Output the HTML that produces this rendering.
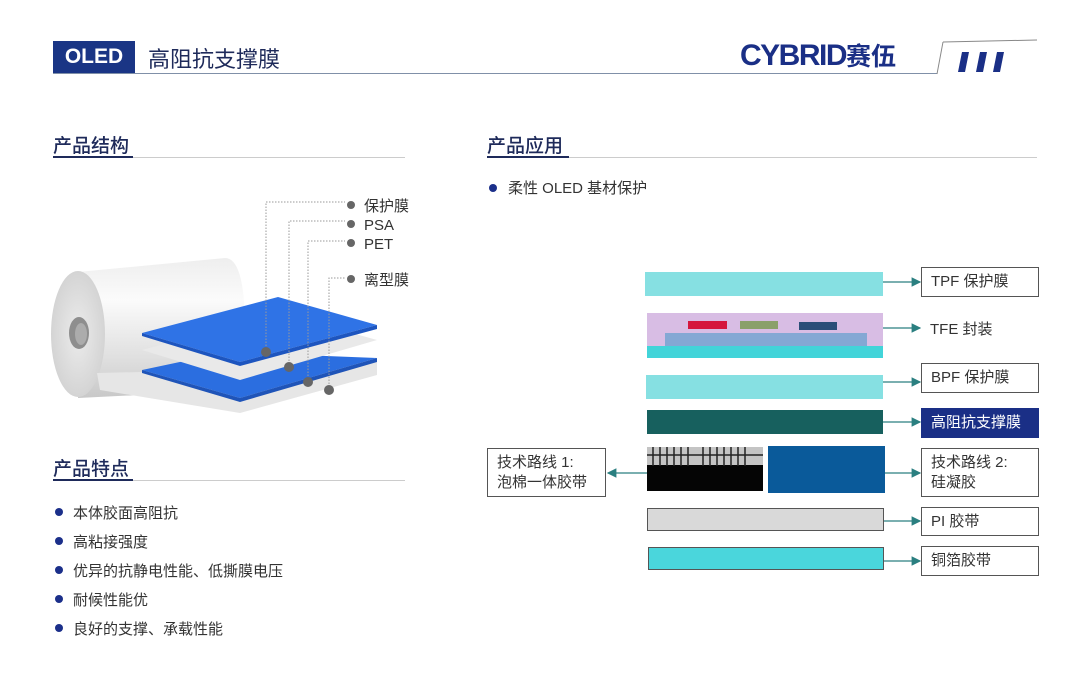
<!DOCTYPE html>
<html><head><meta charset="utf-8">
<style>
body{margin:0;width:1080px;height:690px;background:#fff;position:relative;overflow:hidden;font-family:"Liberation Sans","Noto Sans CJK SC",sans-serif;color:#333}
.a{position:absolute;white-space:nowrap}
.h{font-size:19px;color:#1e2a5a;font-weight:500}
.b{font-size:15px;color:#333}
.dot{position:absolute;width:8px;height:8px;border-radius:50%;background:#1b2f8a}
.box{position:absolute;border:1.5px solid #555;background:#fff;font-size:15px;color:#333;box-sizing:border-box;padding-left:9px;display:flex;align-items:center;line-height:20px}
</style></head><body>
<!-- header -->
<div class="a" style="left:53px;top:41px;width:82px;height:32px;background:#1a3585;color:#fff;font-size:21px;line-height:32px;text-align:center;font-weight:bold">OLED</div>
<div class="a" style="left:148px;top:42px;font-size:22px;color:#1e2a5a">高阻抗支撑膜</div>
<div class="a" style="left:53px;top:73px;width:884px;height:1px;background:#8090a8"></div>
<div class="a" style="left:740px;top:37px;font-size:30px;font-weight:bold;color:#1a2f86;letter-spacing:-1.5px">CYBRID<span style="font-size:25px;letter-spacing:0">赛伍</span></div>
<svg class="a" style="left:930px;top:38px" width="110" height="40"><line x1="7" y1="36" x2="13" y2="4" stroke="#888" stroke-width="1"/><line x1="13" y1="4" x2="107" y2="2" stroke="#888" stroke-width="1"/>
<polygon points="28,34 35,34 39,14 32,14" fill="#1a2f86"/><polygon points="46,34 53,34 57,14 50,14" fill="#1a2f86"/><polygon points="63,34 70,34 74,14 67,14" fill="#1a2f86"/></svg>
<!-- headings -->
<div class="a h" style="left:53px;top:131px">产品结构</div>
<div class="a" style="left:53px;top:157px;width:352px;height:1px;background:#ccc"></div>
<div class="a" style="left:53px;top:156px;width:80px;height:2px;background:#1e2a5a"></div>
<div class="a h" style="left:487px;top:131px">产品应用</div>
<div class="a" style="left:487px;top:157px;width:550px;height:1px;background:#ccc"></div>
<div class="a" style="left:487px;top:156px;width:82px;height:2px;background:#1e2a5a"></div>
<div class="a h" style="left:53px;top:454px">产品特点</div>
<div class="a" style="left:53px;top:480px;width:352px;height:1px;background:#ccc"></div>
<div class="a" style="left:53px;top:479px;width:80px;height:2px;background:#1e2a5a"></div>
<!-- bullets -->
<div class="dot" style="left:489px;top:184px"></div><div class="a b" style="left:508px;top:177px">柔性 OLED 基材保护</div>
<div class="dot" style="left:55px;top:508px"></div><div class="a b" style="left:73px;top:502px">本体胶面高阻抗</div>
<div class="dot" style="left:55px;top:537px"></div><div class="a b" style="left:73px;top:531px">高粘接强度</div>
<div class="dot" style="left:55px;top:566px"></div><div class="a b" style="left:73px;top:560px">优异的抗静电性能、低撕膜电压</div>
<div class="dot" style="left:55px;top:595px"></div><div class="a b" style="left:73px;top:589px">耐候性能优</div>
<div class="dot" style="left:55px;top:624px"></div><div class="a b" style="left:73px;top:618px">良好的支撑、承载性能</div>
<!-- left illustration -->
<svg class="a" style="left:0;top:0" width="440" height="440">
<defs><linearGradient id="cy" x1="0" y1="0" x2="0" y2="1"><stop offset="0" stop-color="#eeeeee"/><stop offset="0.3" stop-color="#fbfbfb"/><stop offset="0.75" stop-color="#dddddd"/><stop offset="1" stop-color="#c8c8c8"/></linearGradient>
<radialGradient id="ef" cx="0.5" cy="0.5" r="0.6"><stop offset="0" stop-color="#ececec"/><stop offset="1" stop-color="#cfcfcf"/></radialGradient></defs>
<path d="M78,272 L225,258 Q245,258 245,330 L240,390 L78,398 Z" fill="url(#cy)"/>
<ellipse cx="78" cy="334" rx="27" ry="63" fill="url(#ef)"/>
<ellipse cx="79" cy="333" rx="10" ry="16" fill="#8e8e8e"/>
<ellipse cx="81" cy="334" rx="6" ry="11" fill="#acacac"/>
<polygon points="97,373 142,372 377,362 377,375 240,413 100,390" fill="#e6e6e6"/>
<polygon points="142,370 227,352 377,358 240,398" fill="#2b6ee0"/>
<polygon points="142,370 240,398 377,358 377,362 240,402 142,373" fill="#1f54b8"/>
<polygon points="142,350 280,313 377,340 240,380" fill="#e9e9e9"/>
<polygon points="142,333 278,297 377,325 240,362" fill="#2f73e6"/>
<polygon points="142,333 240,362 377,325 377,329 240,366 142,336" fill="#1d55bf"/>
<g stroke="#999" stroke-width="1" stroke-dasharray="1.5,1.5" fill="none">
<polyline points="266,352 266,202 345,202"/>
<polyline points="289,367 289,221 345,221"/>
<polyline points="308,382 308,241 345,241"/>
<polyline points="329,390 329,278 345,278"/></g>
<g fill="#666"><circle cx="266" cy="352" r="5"/><circle cx="289" cy="367" r="5"/><circle cx="308" cy="382" r="5"/><circle cx="329" cy="390" r="5"/>
<circle cx="351" cy="205" r="4"/><circle cx="351" cy="224" r="4"/><circle cx="351" cy="243" r="4"/><circle cx="351" cy="279" r="4"/></g>
<g font-size="15" fill="#333" font-family="Liberation Sans,Noto Sans CJK SC,sans-serif"><text x="364" y="211">保护膜</text><text x="364" y="230">PSA</text><text x="364" y="249">PET</text><text x="364" y="285">离型膜</text></g>
</svg>
<!-- right diagram -->
<svg class="a" style="left:0;top:0" width="1080" height="690">
<defs><marker id="ar" markerWidth="8" markerHeight="8" refX="7" refY="4" orient="auto"><path d="M0,0 L8,4 L0,8 Z" fill="#2a7f80"/></marker></defs>
<rect x="645" y="272" width="238" height="24" fill="#86e0e2"/>
<rect x="647" y="313" width="236" height="35" fill="#d8bde4"/>
<rect x="647" y="346" width="236" height="12" fill="#42d4d9"/>
<rect x="665" y="333" width="202" height="13" fill="#84a8d4"/>
<rect x="688" y="321" width="39" height="8" fill="#d5163e"/>
<rect x="740" y="321" width="38" height="8" fill="#8aa06a"/>
<rect x="799" y="322" width="38" height="8" fill="#2a4e78"/>
<rect x="646" y="375" width="237" height="24" fill="#86e0e2"/>
<rect x="647" y="410" width="236" height="24" fill="#17605e"/>
<rect x="647" y="447" width="116" height="18" fill="#c4c4c4"/>
<rect x="647" y="465" width="116" height="26" fill="#050505"/>
<line x1="647" y1="455" x2="763" y2="455" stroke="#222" stroke-width="1.5"/>
<g stroke="#222" stroke-width="1.5"><line x1="653" y1="447" x2="653" y2="466"/><line x1="660" y1="447" x2="660" y2="466"/><line x1="667" y1="447" x2="667" y2="466"/><line x1="674" y1="447" x2="674" y2="466"/><line x1="681" y1="447" x2="681" y2="466"/><line x1="688" y1="447" x2="688" y2="466"/><line x1="703" y1="447" x2="703" y2="466"/><line x1="710" y1="447" x2="710" y2="466"/><line x1="717" y1="447" x2="717" y2="466"/><line x1="724" y1="447" x2="724" y2="466"/><line x1="731" y1="447" x2="731" y2="466"/><line x1="738" y1="447" x2="738" y2="466"/><line x1="745" y1="447" x2="745" y2="466"/></g>
<rect x="768" y="446" width="117" height="47" fill="#0a5a9a"/>
<rect x="647.5" y="508.5" width="236" height="22" fill="#d9d9d9" stroke="#555"/>
<rect x="648.5" y="547.5" width="235" height="22" fill="#4ad6dc" stroke="#555"/>
<g stroke="#2a7f80" stroke-width="1.2" marker-end="url(#ar)">
<line x1="883" y1="282" x2="920" y2="282"/><line x1="883" y1="328" x2="920" y2="328"/><line x1="883" y1="382" x2="920" y2="382"/><line x1="883" y1="422" x2="920" y2="422"/><line x1="885" y1="473" x2="920" y2="473"/><line x1="884" y1="521" x2="920" y2="521"/><line x1="884" y1="561" x2="920" y2="561"/><line x1="647" y1="473" x2="608" y2="473"/></g>
</svg>
<div class="box" style="left:921px;top:267px;width:118px;height:30px">TPF 保护膜</div>
<div class="a b" style="left:930px;top:318px">TFE 封装</div>
<div class="box" style="left:921px;top:363px;width:118px;height:30px">BPF 保护膜</div>
<div class="box" style="left:921px;top:408px;width:118px;height:30px;background:#1a2f86;color:#fff;border-color:#1a2f86">高阻抗支撑膜</div>
<div class="box" style="left:487px;top:448px;width:119px;height:49px">技术路线 1:<br>泡棉一体胶带</div>
<div class="box" style="left:921px;top:448px;width:118px;height:49px">技术路线 2:<br>硅凝胶</div>
<div class="box" style="left:921px;top:507px;width:118px;height:29px">PI 胶带</div>
<div class="box" style="left:921px;top:546px;width:118px;height:30px">铜箔胶带</div>
</body></html>
